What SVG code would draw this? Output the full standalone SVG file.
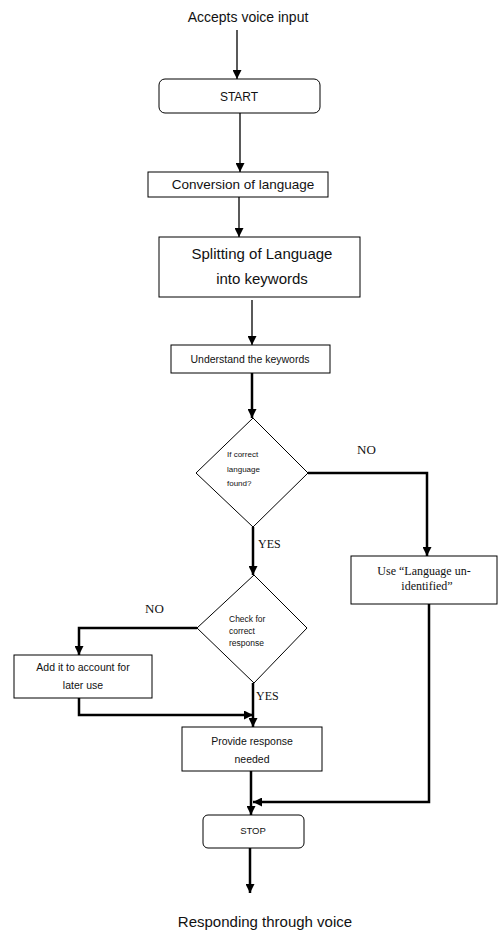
<svg xmlns="http://www.w3.org/2000/svg" width="498" height="933" viewBox="0 0 498 933">
<defs>
<style>
.box{fill:#fff;stroke:#000;stroke-width:1}
.sans{font-family:"Liberation Sans","DejaVu Sans",sans-serif;fill:#111}
.serif{font-family:"Liberation Serif","DejaVu Serif",serif;fill:#111}
.thin{fill:none;stroke:#000;stroke-width:1.3}
.thick{fill:none;stroke:#000;stroke-width:2.5}
</style>
<marker id="ah" markerUnits="userSpaceOnUse" markerWidth="9" markerHeight="9" viewBox="0 0 9 9" refX="9" refY="4.5" orient="auto">
<path d="M0,0 L9,4.5 L0,9 z" fill="#000"/>
</marker>
</defs>
<rect width="498" height="933" fill="#fff"/>

<g id="connectors">
<line class="thin" x1="237" y1="30" x2="237" y2="79" marker-end="url(#ah)"/>
<line class="thin" x1="240" y1="113" x2="240" y2="172" marker-end="url(#ah)"/>
<line class="thin" x1="239" y1="197" x2="239" y2="237" marker-end="url(#ah)"/>
<line class="thin" x1="252" y1="300" x2="252" y2="345" marker-end="url(#ah)"/>
<line class="thick" x1="252" y1="373" x2="252" y2="418" marker-end="url(#ah)"/>
<polyline class="thick" points="308,473 427,473 427,556" marker-end="url(#ah)"/>
<line class="thick" x1="253" y1="527" x2="253" y2="575" marker-end="url(#ah)"/>
<polyline class="thick" points="197,628 79,628 79,655" marker-end="url(#ah)"/>
<line class="thick" x1="253" y1="683" x2="253" y2="727" marker-end="url(#ah)"/>
<polyline class="thick" points="79,698 79,715 253,715" marker-end="url(#ah)"/>
<line class="thick" x1="251" y1="771" x2="251" y2="815" marker-end="url(#ah)"/>
<polyline class="thick" points="429,604 429,802 253,802" marker-end="url(#ah)"/>
<line class="thick" x1="250" y1="848" x2="250" y2="893" marker-end="url(#ah)"/>
<text class="serif" x="357" y="454" font-size="13">NO</text>
<text class="serif" x="258" y="548" font-size="12">YES</text>
<text class="serif" x="145" y="613" font-size="13">NO</text>
<text class="serif" x="256" y="700" font-size="12">YES</text>
</g>

<g id="input">
<text class="sans" x="248" y="22" font-size="14" text-anchor="middle">Accepts voice input</text>
</g>

<g id="start">
<rect class="box" x="159" y="79" width="161" height="34" rx="6"/>
<text class="sans" x="239" y="101" font-size="12" text-anchor="middle">START</text>
</g>

<g id="conversion">
<rect class="box" x="148" y="172" width="180" height="25"/>
<text class="sans" x="243" y="189" font-size="13.5" text-anchor="middle">Conversion of language</text>
</g>

<g id="splitting">
<rect class="box" x="159" y="237" width="201" height="60"/>
<text class="sans" x="262" y="259" font-size="15" text-anchor="middle">Splitting of Language</text>
<text class="sans" x="262" y="284" font-size="15" text-anchor="middle">into keywords</text>
</g>

<g id="understand">
<rect class="box" x="171" y="345" width="159" height="28"/>
<text class="sans" x="250" y="363" font-size="10.5" text-anchor="middle">Understand the keywords</text>
</g>

<g id="decision1">
<polygon class="box" points="253,418 308,473 253,527 196,473"/>
<text class="sans" x="227" y="457" font-size="8">If correct</text>
<text class="sans" x="227" y="472" font-size="8">language</text>
<text class="sans" x="227" y="486" font-size="8">found?</text>
</g>

<g id="unidentified">
<rect class="box" x="351" y="556" width="146" height="48"/>
<text class="serif" x="424" y="575" font-size="12" text-anchor="middle">Use “Language un-</text>
<text class="serif" x="427" y="590" font-size="12" text-anchor="middle">identified”</text>
</g>

<g id="decision2">
<polygon class="box" points="254,575 307,628 254,683 197,628"/>
<text class="sans" x="229" y="622" font-size="8.5">Check for</text>
<text class="sans" x="229" y="634" font-size="8.5">correct</text>
<text class="sans" x="229" y="646" font-size="8.5">response</text>
</g>

<g id="account">
<rect class="box" x="14" y="655" width="138" height="43"/>
<text class="sans" x="83" y="671" font-size="10.5" text-anchor="middle">Add it to account for</text>
<text class="sans" x="83" y="689" font-size="10.5" text-anchor="middle">later use</text>
</g>

<g id="provide">
<rect class="box" x="182" y="727" width="140" height="44"/>
<text class="sans" x="252" y="745" font-size="10.5" text-anchor="middle">Provide response</text>
<text class="sans" x="252" y="763" font-size="10.5" text-anchor="middle">needed</text>
</g>

<g id="stop">
<rect class="box" x="203" y="815" width="101" height="33" rx="5"/>
<text class="sans" x="253" y="834" font-size="9.5" text-anchor="middle">STOP</text>
</g>

<g id="output">
<text class="sans" x="265" y="927" font-size="15" text-anchor="middle">Responding through voice</text>
</g>
</svg>
